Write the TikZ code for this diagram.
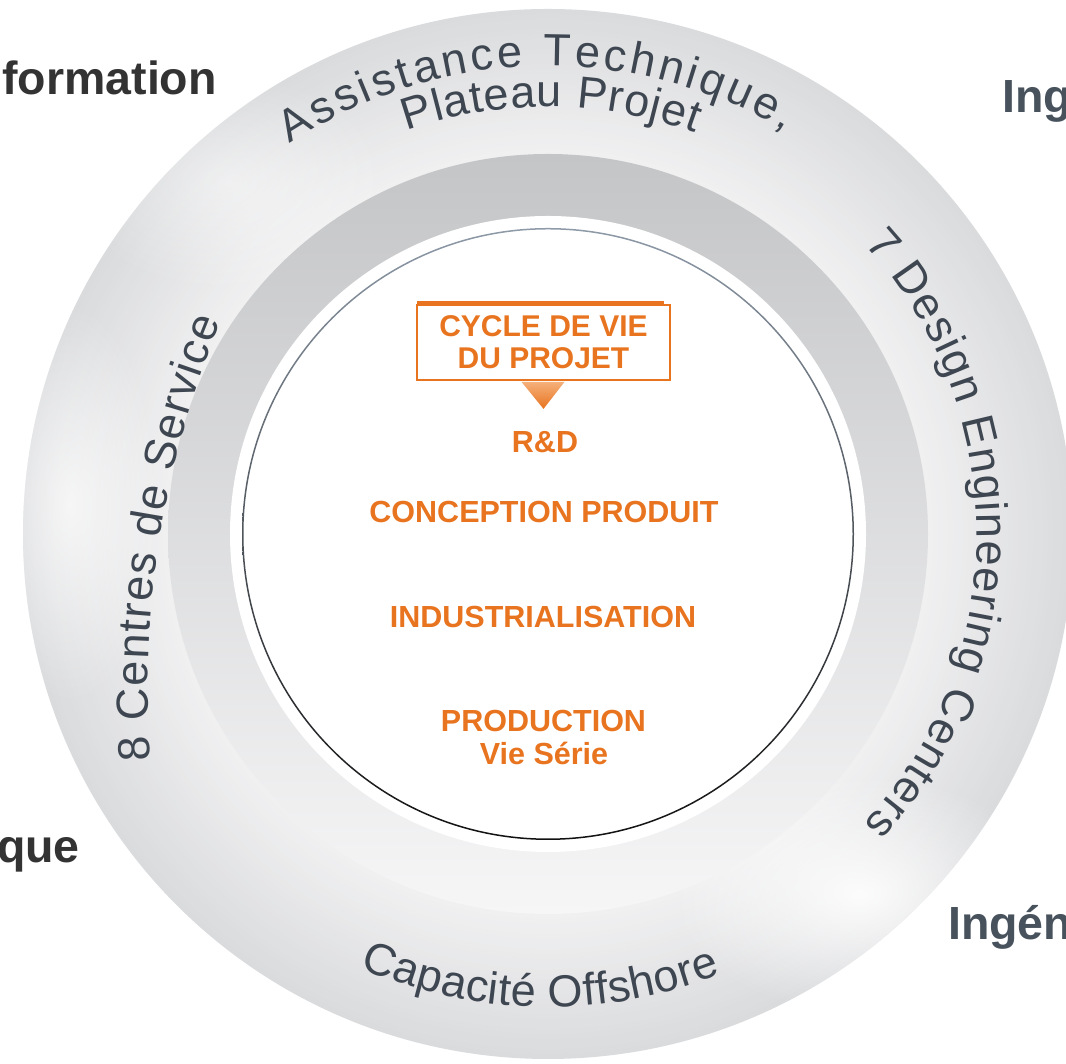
\documentclass[tikz,border=0pt]{standalone}
\usepackage{fontspec}
\setmainfont{Liberation Sans}
\usetikzlibrary{calc,decorations.text,fadings}
\definecolor{ringtxt}{HTML}{3E4751}
\definecolor{orng}{HTML}{E8741F}
\definecolor{orlight}{HTML}{F5B07A}
\definecolor{outdark}{HTML}{333333}
\definecolor{outslate}{HTML}{47525D}
\definecolor{ringout}{HTML}{DADBDD}
\definecolor{ringin}{HTML}{F0F0F1}
\definecolor{bandA}{HTML}{C4C5C7}
\definecolor{bandB}{HTML}{D2D3D5}
\definecolor{bandC}{HTML}{F6F6F7}
\definecolor{lineA}{HTML}{8E9AA8}
\definecolor{lineB}{HTML}{30343A}
\definecolor{lineC}{HTML}{111111}
\tikzfading[name=glowfade, inner color=transparent!0, outer color=transparent!100]
\newcommand\ringfont{\fontsize{45}{54}\selectfont\color{ringtxt}}
\begin{document}
\begin{tikzpicture}[x=1pt,y=1pt,
  ringtext/.style={decorate, decoration={text along path, text align=fit to path, text={|\ringfont|#1}}},
  phase/.style={text=orng, font=\fontsize{30.5}{33}\selectfont\bfseries, anchor=base, inner sep=0pt},
  outlabel/.style={font=\fontsize{46.5}{55}\selectfont\bfseries, inner sep=0pt},
]
\useasboundingbox (0,0) rectangle (1066,1064);
\clip (0,0) rectangle (1066,1064);
\fill[white] (0,0) rectangle (1066,1064);
\coordinate (C) at (548,530);
\coordinate (L) at (1108,375);
% outer ring gradient
\foreach \i in {0,...,28}{
  \pgfmathsetmacro\rr{525-\i*5}
  \pgfmathtruncatemacro\pp{100-\i*100/28}
  \fill[ringout!\pp!ringin] (C) circle[radius=\rr pt];
}
\begin{scope}
  \clip (C) circle[radius=525pt];
  \fill[white, path fading=glowfade, opacity=0.9] (860,170) ellipse[x radius=190pt, y radius=120pt];
  \fill[white, path fading=glowfade, opacity=0.7] (70,560) ellipse[x radius=90pt, y radius=200pt];
  \fill[white, path fading=glowfade, opacity=0.5] (230,880) ellipse[x radius=160pt, y radius=110pt];
\end{scope}
% inner band and disk
\shade[shading angle=70, top color=bandA, middle color=bandB, bottom color=bandC] (C) circle[radius=380pt];
\fill[white] (C) circle[radius=318pt];
\shade[even odd rule, shading angle=75, top color=lineA, middle color=lineB, bottom color=lineC] (C) circle[radius=306pt] (C) circle[radius=304.5pt];
% ring texts
\path[ringtext={Assistance Technique,}] ($(C)+(123.5:468pt)$) arc[start angle=123.5, end angle=59.5, radius=468pt];
\path[ringtext={Plateau Projet}] ($(C)+(109.3:427pt)$) arc[start angle=109.3, end angle=69.9, radius=427pt];
\path[ringtext={7 Design Engineering Centers}] ($(C)+(42.5:429pt)$) arc[start angle=42.5, end angle=-42.6, radius=429pt];
\path[ringtext={Capacité Offshore}] ($(C)+(-113.5:473pt)$) arc[start angle=-113.5, end angle=-68.6, radius=473pt];
\path[ringtext={8 Centres de Service}] ($(L)+(184.3:960pt)$) arc[start angle=184.3, end angle=157.5, radius=960pt];
% centre
\node[draw=orng, line width=1.8pt, minimum width=253pt, minimum height=75pt, inner sep=0pt, align=center, text=orng, font=\fontsize{30}{32}\selectfont\bfseries] (box) at (543.5,721.5) {CYCLE DE VIE\\DU PROJET};
\fill[orng] ($(box.north west)+(1,-1)$) rectangle ($(box.north east)+(-7,3)$);
\shade[top color=orlight, bottom color=orng] ($(box.south)+(-22,-1)$) -- ($(box.south)+(21,-1)$) -- ($(box.south)+(0,-28)$) -- cycle;
\node[phase] (rd) at (545,611) {R\&D};
\node[phase] (conc) at (544,541) {CONCEPTION PRODUIT};
\node[phase] (indus) at (543,436) {INDUSTRIALISATION};
\node[phase] (prod) at (543.5,332) {PRODUCTION};
\node[phase] (vie) at (544,299) {Vie Série};
% outside labels
\node[outlabel, text=outdark, anchor=base east] (forma) at (217,969) {formation};
\node[outlabel, text=outslate, anchor=base west] (ing1) at (1002,951) {Ing};
\node[outlabel, text=outdark, anchor=base east] (que) at (80,201) {que};
\node[outlabel, text=outslate, anchor=base west] (ing2) at (948,124) {Ingén};
\end{tikzpicture}
\end{document}
